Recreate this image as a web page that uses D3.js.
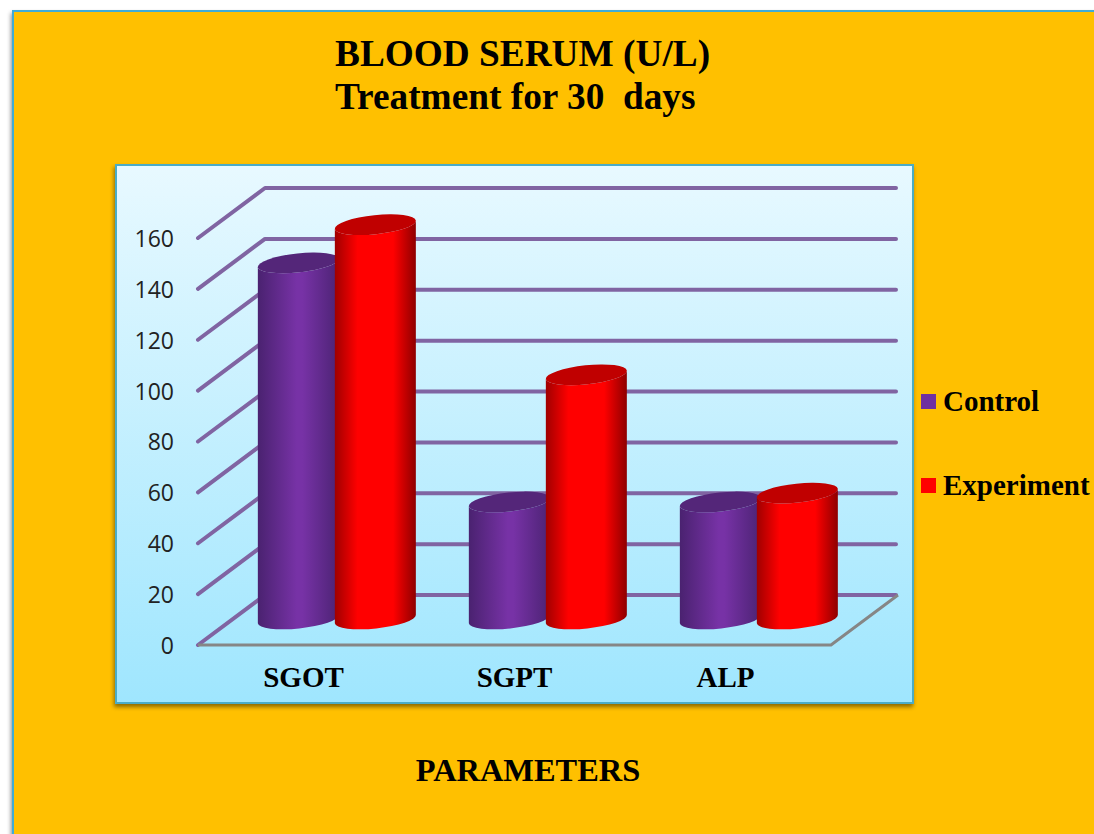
<!DOCTYPE html>
<html>
<head>
<meta charset="utf-8">
<script src="https://cdn.jsdelivr.net/npm/d3@7"></script>
<style>
    html, body { margin: 0; padding: 0; background: #fff; overflow: hidden; }
    svg { display: block; }
    .serif { font-family: "Liberation Serif", serif; font-weight: bold; fill: #000; white-space: pre; }
</style>
</head>
<body>
<div id="chart"></div>
<script>
const categories = ["SGOT", "SGPT", "ALP"];
const seriesNames = ["Control", "Experiment"];
const controlValues = [140, 46, 46];
const experimentValues = [155, 96, 49.5];
const yTicks = [0, 20, 40, 60, 80, 100, 120, 140, 160];
const titleLines = ["BLOOD SERUM (U/L)", "Treatment for 30  days"];
const xTitle = "PARAMETERS";

const width = 1094, height = 834;
const depthX = 67, depthY = -50; // how far the back wall sits from the front of the floor
const barDepth = 0.52; // cylinders stand about half way back on the floor
const rx = 40.5, ry = 9.5, tilt = -6;
const tiltDy = rx * Math.tan(tilt * Math.PI / 180);

const svg = d3.select("#chart").append("svg")
    .attr("width", width)
    .attr("height", height);

const defs = svg.append("defs");

function addSideGradient(id, edgeLeft, middle, edgeRight, midFrom, midTo) {
    const g = defs.append("linearGradient").attr("id", id);
    g.append("stop").attr("offset", 0).attr("stop-color", edgeLeft);
    g.append("stop").attr("offset", midFrom).attr("stop-color", middle);
    g.append("stop").attr("offset", midTo).attr("stop-color", middle);
    g.append("stop").attr("offset", 1).attr("stop-color", edgeRight);
}
addSideGradient("side-control", "#4a2270", "#7732a6", "#4c2374", 0.48, 0.55);
addSideGradient("side-experiment", "#a00000", "#ff0000", "#8e0000", 0.28, 0.72);

const panelFill = defs.append("linearGradient")
    .attr("id", "panel-fill")
    .attr("x1", 0).attr("x2", 0).attr("y1", 0).attr("y2", 1);
panelFill.append("stop").attr("offset", 0).attr("stop-color", "#e8f9ff");
panelFill.append("stop").attr("offset", 1).attr("stop-color", "#9fe6fe");

const shadow = defs.append("filter").attr("id", "soft-shadow")
    .attr("x", "-5%").attr("y", "-5%").attr("width", "110%").attr("height", "110%");
shadow.append("feDropShadow")
    .attr("dx", -1).attr("dy", 3).attr("stdDeviation", 2)
    .attr("flood-color", "#000").attr("flood-opacity", 0.45);

// Slide background
svg.append("rect")
    .attr("x", 13).attr("y", 11)
    .attr("width", width + 20).attr("height", height + 20)
    .attr("fill", "#ffc000")
    .attr("stroke", "#41acd6")
    .attr("stroke-width", 2)
    .attr("filter", "url(#soft-shadow)");

// Chart panel
svg.append("rect")
    .attr("x", 116).attr("y", 165)
    .attr("width", 797).attr("height", 538)
    .attr("fill", "url(#panel-fill)")
    .attr("stroke", "#4bacc6")
    .attr("stroke-width", 2)
    .attr("filter", "url(#soft-shadow)");

// Scales
const x = d3.scaleBand().domain(categories).range([198, 831]);
const y = d3.scaleLinear().domain([0, 160]).range([645, 238]);
const xSeries = d3.scaleBand().domain(seriesNames).range([-78.5, 75.5]);
const color = d3.scaleOrdinal().domain(seriesNames).range(["control", "experiment"]);
const topColor = d3.scaleOrdinal().domain(seriesNames).range(["#542679", "#c00000"]);
const swatchColor = d3.scaleOrdinal().domain(seriesNames).range(["#7030a0", "#ff0000"]);

// Gridlines: diagonal on the side wall then flat on the back wall
svg.append("g")
    .selectAll("polyline")
    .data(yTicks)
    .enter()
    .append("polyline")
    .attr("points", function (d) {
        return [
            [x.range()[0], y(d)],
            [x.range()[0] + depthX, y(d) + depthY],
            [x.range()[1] + depthX - 2, y(d) + depthY] // -2 leaves room for the round cap
        ].join(" ");
    })
    .attr("fill", "none")
    .attr("stroke", "#8064a2")
    .attr("stroke-width", 4)
    .attr("stroke-linecap", "round")
    .attr("stroke-linejoin", "round");

// Floor edge
svg.append("polyline")
    .attr("points", [
        [x.range()[0], y(0)],
        [x.range()[1], y(0)],
        [x.range()[1] + depthX, y(0) + depthY]
    ].join(" "))
    .attr("fill", "none")
    .attr("stroke", "#868686")
    .attr("stroke-width", 3);

// Cylinders
const bars = [];
categories.forEach(function (c, i) {
    bars.push({category: c, series: "Control", value: controlValues[i]});
    bars.push({category: c, series: "Experiment", value: experimentValues[i]});
});

function centerX(d) {
    return x(d.category) + x.bandwidth() / 2 + depthX * barDepth + xSeries(d.series) + xSeries.bandwidth() / 2;
}

function sidePath(d) {
    const cx = centerX(d);
    const base = y(0) + depthY * barDepth;
    const top = y(d.value) + depthY * barDepth;
    const arcRx = rx / Math.cos(tilt * Math.PI / 180);
    return "M" + (cx - rx) + "," + (top - tiltDy)
        + "L" + (cx - rx) + "," + (base - tiltDy)
        + "A" + arcRx + "," + ry + " " + tilt + " 0 0 " + (cx + rx) + "," + (base + tiltDy)
        + "L" + (cx + rx) + "," + (top + tiltDy)
        + "A" + arcRx + "," + ry + " " + tilt + " 0 1 " + (cx - rx) + "," + (top - tiltDy)
        + "Z";
}

const barGroups = svg.append("g")
    .selectAll("g")
    .data(bars)
    .enter()
    .append("g");

barGroups.append("path")
    .attr("d", sidePath)
    .attr("fill", function (d) {
        return "url(#side-" + color(d.series) + ")";
    });

barGroups.append("ellipse")
    .attr("rx", rx / Math.cos(tilt * Math.PI / 180))
    .attr("ry", ry)
    .attr("transform", function (d) {
        return "translate(" + centerX(d) + "," + (y(d.value) + depthY * barDepth) + ") rotate(" + tilt + ")";
    })
    .attr("fill", function (d) {
        return topColor(d.series);
    });

// Y axis
const yAxis = svg.append("g")
    .attr("transform", "translate(174,1)")
    .call(d3.axisLeft(y).tickValues(yTicks).tickSize(0).tickPadding(0));
yAxis.select(".domain").remove();
yAxis.selectAll("text")
    .attr("font-family", "'Open Sans', sans-serif")
    .attr("font-size", 23)
    .attr("fill", "#222");

// X axis
const xAxis = svg.append("g")
    .attr("transform", "translate(0," + y(0) + ")")
    .call(d3.axisBottom(x).tickSize(0).tickPadding(21));
xAxis.select(".domain").remove();
xAxis.selectAll("text")
    .attr("class", "serif")
    .attr("font-size", 29);

// Titles
svg.append("g")
    .selectAll("text")
    .data(titleLines)
    .enter()
    .append("text")
    .attr("class", "serif")
    .attr("x", 335)
    .attr("y", function (d, i) {
        return 66 + i * 43;
    })
    .attr("font-size", 37.3)
    .text(function (d) {
        return d;
    });

svg.append("text")
    .attr("class", "serif")
    .attr("x", 528)
    .attr("y", 781)
    .attr("text-anchor", "middle")
    .attr("font-size", 32.4)
    .text(xTitle);

// Legend
const legend = svg.append("g")
    .selectAll("g")
    .data(seriesNames)
    .enter()
    .append("g")
    .attr("transform", function (d, i) {
        return "translate(921," + (394 + i * 84) + ")";
    });

legend.append("rect")
    .attr("width", 15)
    .attr("height", 15)
    .attr("fill", function (d) {
        return swatchColor(d);
    });

legend.append("text")
    .attr("class", "serif")
    .attr("x", 22)
    .attr("y", 17)
    .attr("font-size", 29)
    .text(function (d) {
        return d;
    });
</script>
</body>
</html>
